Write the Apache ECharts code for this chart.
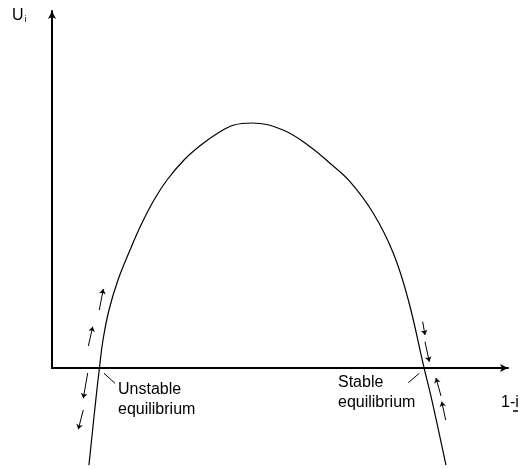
<!DOCTYPE html>
<html>
<head>
<meta charset="utf-8">
<script src="https://cdn.jsdelivr.net/npm/echarts@6/dist/echarts.min.js"></script>
<style>
  html, body { margin: 0; padding: 0; background: #fff; }
  #chart { width: 523px; height: 469px; }
</style>
</head>
<body>
<div id="chart"></div>
<script>
// curve U_i against 1-i (arbitrary units)
const xs = [0.81, 0.96, 1.04, 1.118, 1.250, 1.447, 1.711, 1.952, 2.237, 2.522, 2.895, 3.268, 3.640, 3.991, 4.386, 5.066, 5.658, 6.096, 6.535, 7.046, 7.485, 7.814, 8.16, 8.33, 8.64]
const us = [-2.72, -0.90, 0, 0.784, 1.625, 2.465, 3.305, 4.006, 4.706, 5.266, 5.826, 6.246, 6.583, 6.807, 6.863, 6.667, 6.199, 5.734, 5.218, 4.333, 3.213, 1.905, 0, -0.90, -2.72]

// little direction arrows: [from, to]
const moveArrows = [
    [[1.037, 1.625], [1.125, 2.213]],
    [[0.796, 0.616], [0.893, 1.157]],
    [[0.783, -0.140], [0.686, -0.849]],
    [[0.686, -1.176], [0.577, -1.717]],
    [[8.129, 1.297], [8.180, 0.924]],
    [[8.180, 0.737], [8.274, 0.176]],
    [[8.531, -0.784], [8.421, -0.280]],
    [[8.634, -1.457], [8.546, -0.944]]
]
// leader lines from labels to the crossing points
const leaders = [
    [[1.140, -0.148], [1.382, -0.429]],
    [[8.055, -0.148], [7.813, -0.412]]
]
const labels = ['Unstable\nequilibrium', 'Stable\nequilibrium']

const chart = echarts.init(document.getElementById('chart'))
const font = 'Arial, "Liberation Sans", sans-serif'

chart.setOption({
    animation: false,
    grid: { left: 52, right: 15, top: 11, bottom: 101 },
    xAxis: {
        type: 'value',
        min: 0,
        max: 10,
        axisLine: {
            lineStyle: { color: '#000', width: 2 },
            symbol: ['none', 'arrow'],
            symbolSize: [6, 8]
        },
        axisTick: { show: false },
        axisLabel: { show: false },
        splitLine: { show: false }
    },
    yAxis: {
        type: 'value',
        min: 0,
        max: 10,
        axisLine: {
            show: true,
            lineStyle: { color: '#000', width: 2 },
            symbol: ['none', 'arrow'],
            symbolSize: [6, 8]
        },
        axisTick: { show: false },
        axisLabel: { show: false },
        splitLine: { show: false }
    },
    series: [
        {
            type: 'line',
            data: xs.map((x, i) => [x, us[i]]),
            smooth: 0.4,
            showSymbol: false,
            clip: false,
            lineStyle: { color: '#000', width: 1.2 }
        },
        {
            type: 'lines',
            coordinateSystem: 'cartesian2d',
            clip: false,
            symbol: ['none', 'arrow'],
            symbolSize: 5,
            lineStyle: { color: '#000', width: 1, opacity: 1 },
            data: moveArrows.map(a => ({ coords: a }))
        },
        {
            type: 'lines',
            coordinateSystem: 'cartesian2d',
            clip: false,
            symbol: 'none',
            lineStyle: { color: '#000', width: 1, opacity: 1 },
            data: leaders.map(a => ({ coords: a }))
        }
    ],
    graphic: [
        {
            type: 'text', left: 12, top: 8,
            style: {
                text: '{u|U}{s|i}',
                rich: {
                    u: { fontSize: 16, fontFamily: font, fill: '#000' },
                    s: { fontSize: 9, fontFamily: font, fill: '#000', padding: [8, 0, 0, 1] }
                }
            }
        },
        {
            type: 'text', left: 118, top: 380,
            style: { text: labels[0], font: '16px ' + font, fill: '#000', lineHeight: 20 }
        },
        {
            type: 'text', left: 338, top: 373,
            style: { text: labels[1], font: '16px ' + font, fill: '#000', lineHeight: 20 }
        },
        {
            type: 'text', left: 501, top: 395,
            style: { text: '1-i', font: '16px ' + font, fill: '#000' }
        },
        {
            type: 'line',
            shape: { x1: 513, y1: 411, x2: 518, y2: 411 },
            style: { stroke: '#000', lineWidth: 1.5 }
        }
    ]
})
</script>
</body>
</html>
